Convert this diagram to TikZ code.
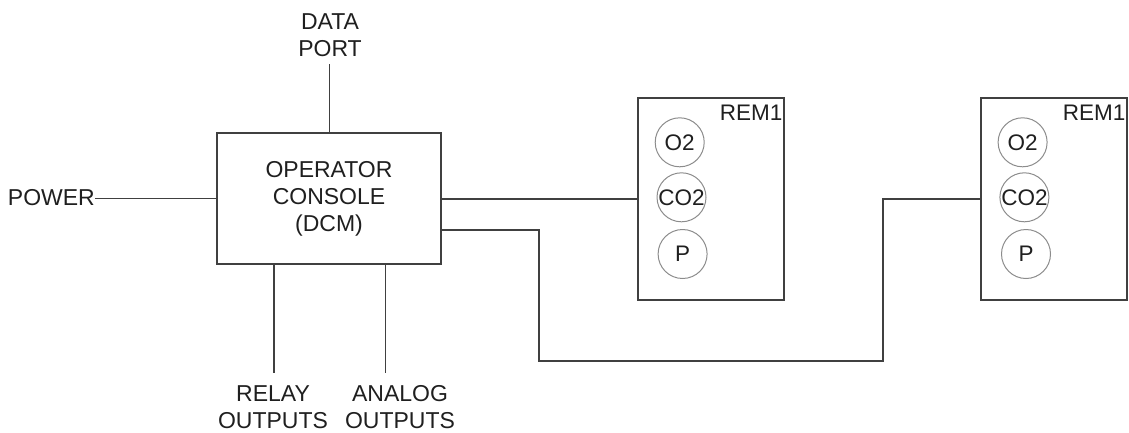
\documentclass[tikz,border=0pt]{standalone}
\usepackage{fontspec}
\setmainfont{Liberation Sans}
\begin{document}
\begin{tikzpicture}[x=1pt,y=-1pt,
  wire/.style={draw=black!75, line width=1.1pt},
  lbl/.style={align=center, inner sep=0pt, text=black!88, font=\fontsize{23}{27}\selectfont},
  boxnode/.style={draw=black!75, line width=1.1pt, rectangle, inner sep=0pt},
  sensor/.style={draw=black!45, line width=1pt, circle, minimum size=49pt, inner sep=0pt, text=black!88, font=\fontsize{22.5}{27}\selectfont},
  remtag/.style={anchor=north east, inner sep=0pt, text=black!88, font=\fontsize{22.5}{27}\selectfont}]
\useasboundingbox (0,0) rectangle (1129,432);
% main console
\node[boxnode, minimum width=224pt, minimum height=131pt, lbl] (console) at (329,198.5) {OPERATOR\\CONSOLE\\(DCM)};
% remote modules
\node[boxnode, minimum width=146pt, minimum height=202pt] (rem1) at (711,199) {};
\node[boxnode, minimum width=146pt, minimum height=202pt] (rem2) at (1054,199) {};
\node[remtag] (rem1tag) at ([xshift=-2pt,yshift=-7pt]rem1.north east) {REM1};
\node[remtag] (rem2tag) at ([xshift=-2pt,yshift=-7pt]rem2.north east) {REM1};
\node[sensor] (o2a) at (679.7,142.3) {O2};
\node[sensor] (co2a) at (681.5,197.3) {CO2};
\node[sensor] (pa) at (682.6,254) {P};
\node[sensor] (o2b) at (1022.6,142.3) {O2};
\node[sensor] (co2b) at (1024.4,197.3) {CO2};
\node[sensor] (pb) at (1026,254) {P};
% labels
\node[lbl] (dataport) at (330,35) {DATA\\PORT};
\node[lbl, anchor=east] (power) at (95,198) {POWER};
\node[lbl] (relay) at (273,407) {RELAY\\OUTPUTS};
\node[lbl] (analog) at (400,407) {ANALOG\\OUTPUTS};
% free ends and bends
\coordinate (dp) at (329.7,64);
\coordinate (ro) at (274,373);
\coordinate (ao) at (385.5,373);
\coordinate (bend1) at (539,230);
\coordinate (bend2) at (539,361);
\coordinate (bend3) at (883,361);
% connectors
\draw[wire] (console.north -| dp) -- (dp);
\draw[wire] (power.east |- console.west) -- (console.west);
\draw[wire] (console.south -| ro) -- (ro);
\draw[wire] (console.south -| ao) -- (ao);
\draw[wire] (console.east |- rem1.west) -- (rem1.west);
\draw[wire] (console.east |- bend1) -- (bend1) -- (bend2) -- (bend3) |- (rem2.west);
\end{tikzpicture}
\end{document}
